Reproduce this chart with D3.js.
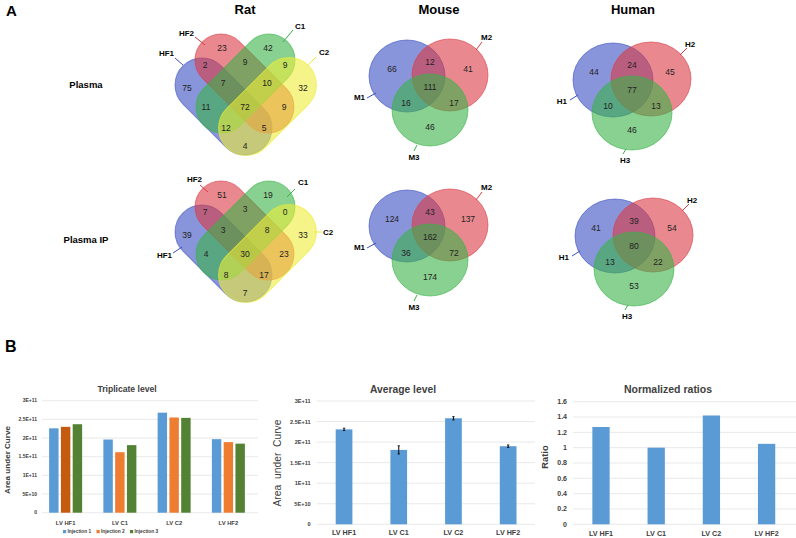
<!DOCTYPE html>
<html><head><meta charset="utf-8">
<script src="https://cdn.jsdelivr.net/npm/d3@7"></script>
<style>
body{margin:0;background:#fff}
svg{display:block;font-family:"Liberation Sans",Arial,sans-serif}
</style>
</head><body>
<svg id="c" width="796" height="538"></svg>
<script>
// ---------------- DATA ----------------
const species = ["Rat", "Mouse", "Human"];
const sampleRows = ["Plasma", "Plasma IP"];

const ratSets = ["HF1", "HF2", "C1", "C2"];
const ratRegions = ["HF1", "HF2", "C1", "C2", "HF1&HF2", "HF2&C1", "C1&C2", "HF1&C1", "HF2&C2", "HF1&C2",
  "HF1&HF2&C1", "HF2&C1&C2", "HF1&C1&C2", "HF1&HF2&C2", "HF1&HF2&C1&C2"];
const ratPlasma   = [75, 23, 42, 32, 2, 9, 9, 11, 9, 4, 7, 10, 12, 5, 72];
const ratPlasmaIP = [39, 51, 19, 33, 7, 3, 0, 4, 23, 7, 3, 8, 8, 17, 30];

const mouseSets = ["M1", "M2", "M3"];
const humanSets = ["H1", "H2", "H3"];
const tripleRegions = ["1", "2", "3", "1&2", "1&3", "2&3", "1&2&3"];
const mousePlasma   = [66, 41, 46, 12, 16, 17, 111];
const mousePlasmaIP = [124, 137, 174, 43, 36, 72, 162];
const humanPlasma   = [44, 45, 46, 24, 10, 13, 77];
const humanPlasmaIP = [41, 54, 53, 39, 13, 22, 80];

const barCategories = ["LV HF1", "LV C1", "LV C2", "LV HF2"];
const injections = ["Injection 1", "Injection 2", "Injection 3"];
const injection1 = [2.26e11, 1.96e11, 2.68e11, 1.97e11];
const injection2 = [2.30e11, 1.62e11, 2.55e11, 1.89e11];
const injection3 = [2.37e11, 1.81e11, 2.54e11, 1.85e11];
const averageLevel = [2.31e11, 1.81e11, 2.58e11, 1.90e11];
const averageError = [0.03e11, 0.10e11, 0.04e11, 0.03e11];
const normalizedRatio = [1.27, 1.00, 1.42, 1.05];

const aucTicks = [0, 5e10, 1e11, 1.5e11, 2e11, 2.5e11, 3e11];
const aucTickLabels = ["0", "5E+10", "1E+11", "1.5E+11", "2E+11", "2.5E+11", "3E+11"];
const ratioTicks = [0, 0.2, 0.4, 0.6, 0.8, 1.0, 1.2, 1.4, 1.6];
const ratioTickLabels = ["0", "0.2", "0.4", "0.6", "0.8", "1", "1.2", "1.4", "1.6"];

// ---------------- STYLE / LAYOUT ----------------
const svg = d3.select("#c");
const C = {blue: "#3b4fc2", red: "#db3a44", green: "#38b248", yellow: "#ecec38"};
const setColors4 = [C.blue, C.red, C.green, C.yellow];
const setColors3 = [C.blue, C.red, C.green];
const fillOp = 0.6;
const textDark = "#222";
const chartText = "#404040";

// panel letters, titles
svg.append("text").attr("x", 6).attr("y", 16).attr("font-size", 15).attr("font-weight", "bold").text("A");
svg.append("text").attr("x", 5).attr("y", 352).attr("font-size", 16).attr("font-weight", "bold").text("B");
const colX = d3.scalePoint().domain(species).range([245, 633]);
svg.selectAll("text.col").data(species).join("text").attr("class", "col")
  .attr("x", d => colX(d)).attr("y", 14).attr("text-anchor", "middle")
  .attr("font-size", 13).attr("font-weight", "bold").text(d => d);
const rowY = d3.scalePoint().domain(sampleRows).range([88, 243]);
svg.selectAll("text.row").data(sampleRows).join("text").attr("class", "row")
  .attr("x", 86).attr("y", d => rowY(d)).attr("text-anchor", "middle")
  .attr("font-size", 9.5).attr("font-weight", "bold").text(d => d);

// ---------- 4-set capsule Venn ----------
const caps4 = [
  {cx: -21.5, cy: 6.5, L: 30.4, r: 27, rot: 45},    // HF1
  {cx: -0.5, cy: -16.5, L: 33.2, r: 26, rot: 45},   // HF2
  {cx: 0.5, cy: -16.5, L: 33.2, r: 26, rot: -45},   // C1
  {cx: 22.5, cy: 6.5, L: 30.4, r: 27.5, rot: -45}   // C2
];
const regionPos4 = [[-58, -12], [-23, -52], [23, -52], [58, -12], [-40, -35], [0, -38], [40, -35],
  [-39, 7], [39, 7], [0, 46], [-22, -17], [22, -17], [-19, 28], [19, 28], [0, 7]];

function capsulePath(L, r) {
  return `M${-L},${-r}L${L},${-r}A${r},${r} 0 0 1 ${L},${r}L${-L},${r}A${r},${r} 0 0 1 ${-L},${-r}Z`;
}
function drawVenn4(cx, cy, counts, labels) {
  const g = svg.append("g").attr("transform", `translate(${cx},${cy})`);
  caps4.forEach((c, i) => {
    g.append("path").attr("d", capsulePath(c.L, c.r))
      .attr("transform", `translate(${c.cx},${c.cy}) rotate(${c.rot})`)
      .attr("fill", setColors4[i]).attr("fill-opacity", fillOp)
      .attr("stroke", setColors4[i]).attr("stroke-opacity", 0.6).attr("stroke-width", 1);
  });
  ratRegions.forEach((r, i) => {
    g.append("text").attr("x", regionPos4[i][0]).attr("y", regionPos4[i][1]).attr("dy", "0.35em")
      .attr("text-anchor", "middle").attr("font-size", 8.5).attr("fill", textDark).text(counts[i]);
  });
  ratSets.forEach((s, i) => {
    const l = labels[i];
    g.append("line").attr("x1", l.l[0]).attr("y1", l.l[1]).attr("x2", l.l[2]).attr("y2", l.l[3])
      .attr("stroke", setColors4[i]).attr("stroke-width", 1);
    g.append("text").attr("x", l.t[0]).attr("y", l.t[1]).attr("dy", "0.35em").attr("text-anchor", l.a)
      .attr("font-size", 8).attr("font-weight", "bold").text(s);
  });
}
drawVenn4(245, 100, ratPlasma, [
  {t: [-71, -47], a: "end", l: [-70, -42, -62, -35]},
  {t: [-51, -67], a: "end", l: [-50, -63, -40, -55]},
  {t: [50, -74], a: "start", l: [48, -70, 38, -58]},
  {t: [74, -48], a: "start", l: [71, -43, 63, -35]}
]);
drawVenn4(245, 247, ratPlasmaIP, [
  {t: [-73, 8], a: "end", l: [-72, 6, -63, 0]},
  {t: [-43, -68], a: "end", l: [-45, -62, -37, -55]},
  {t: [53, -65], a: "start", l: [50, -58, 42, -50]},
  {t: [78, -15], a: "start", l: [69, -15, 77, -15]}
]);

// ---------- 3-set Venn ----------
const regionPos3 = [[-38, -17], [38, -17], [0, 41], [0, -24], [-24, 17], [24, 17], [0, 1]];
function drawVenn3(cx, cy, circles, rx, ry, sets, counts, labels) {
  const g = svg.append("g").attr("transform", `translate(${cx},${cy})`);
  circles.forEach((c, i) => {
    g.append("ellipse").attr("cx", c[0]).attr("cy", c[1]).attr("rx", rx).attr("ry", ry)
      .attr("fill", setColors3[i]).attr("fill-opacity", fillOp)
      .attr("stroke", setColors3[i]).attr("stroke-opacity", 0.6).attr("stroke-width", 1);
  });
  tripleRegions.forEach((r, i) => {
    g.append("text").attr("x", regionPos3[i][0]).attr("y", regionPos3[i][1]).attr("dy", "0.35em")
      .attr("text-anchor", "middle").attr("font-size", 8.5).attr("fill", textDark).text(counts[i]);
  });
  sets.forEach((s, i) => {
    const l = labels[i];
    g.append("line").attr("x1", l.l[0]).attr("y1", l.l[1]).attr("x2", l.l[2]).attr("y2", l.l[3])
      .attr("stroke", setColors3[i]).attr("stroke-width", 1);
    g.append("text").attr("x", l.t[0]).attr("y", l.t[1]).attr("dy", "0.35em").attr("text-anchor", l.a)
      .attr("font-size", 8).attr("font-weight", "bold").text(s);
  });
}
const mouseCircles = [[-23, -10], [20, -11], [0, 24]];
const humanCircles = [[-19, -9], [19, -10], [0, 24]];
const mouseLabels = [
  {t: [-65, 11], a: "end", l: [-63, 12, -54, 7]},
  {t: [51, -49], a: "start", l: [52, -44, 46, -36]},
  {t: [-16, 71], a: "middle", l: [-16, 65, -13, 59]}
];
const humanLabels = [
  {t: [-65, 12], a: "end", l: [-62, 11, -54, 6]},
  {t: [53, -45], a: "start", l: [55, -41, 48, -34]},
  {t: [-7, 71], a: "middle", l: [-9, 65, -6, 60]}
];
drawVenn3(430, 86, mouseCircles, 38, 36, mouseSets, mousePlasma, mouseLabels);
drawVenn3(430, 236, mouseCircles, 38, 36, mouseSets, mousePlasmaIP, mouseLabels);
drawVenn3(632, 89, humanCircles, 40, 37, humanSets, humanPlasma, humanLabels);
drawVenn3(634, 245, humanCircles, 40, 37, humanSets, humanPlasmaIP, humanLabels);

// ---------------- BAR CHARTS ----------------
const barBlue = "#5b9bd5", barOrange = "#ed7d31", barDarkOrange = "#c55a11", barGreen = "#548235";
const gridColor = "#e3e3e3";

function frame(o) {
  const g = svg.append("g");
  o.ticks.forEach((t, i) => {
    g.append("line").attr("x1", o.gx0).attr("x2", o.gx1).attr("y1", o.y(t)).attr("y2", o.y(t))
      .attr("stroke", gridColor).attr("stroke-width", 0.8);
    g.append("text").attr("x", o.lx).attr("y", o.y(t)).attr("dy", "0.35em").attr("text-anchor", "end")
      .attr("font-size", o.tickSize).attr("font-weight", "bold").attr("fill", chartText).text(o.tickLabels[i]);
  });
  barCategories.forEach(c => {
    g.append("text").attr("x", o.x(c) + o.x.bandwidth() / 2).attr("y", o.xly).attr("dy", "0.35em")
      .attr("text-anchor", "middle").attr("font-size", o.xSize).attr("font-weight", "bold")
      .attr("fill", chartText).text(c);
  });
  g.append("text").attr("x", o.tx).attr("y", o.ty).attr("dy", "0.35em").attr("text-anchor", "middle")
    .attr("font-size", o.titleSize).attr("font-weight", "bold").attr("fill", chartText).text(o.title);
  g.append("text").attr("transform", `translate(${o.ax},${o.ay}) rotate(-90)`).attr("dy", "0.35em")
    .attr("text-anchor", "middle").attr("font-size", o.axSize).attr("font-weight", o.axWeight)
    .attr("fill", chartText).style("white-space", "pre").text(o.axTitle);
  return g;
}

// Chart 1: Triplicate level
{
  const x = d3.scaleBand().domain(barCategories).range([38.5, 255.5]);
  const xi = d3.scaleBand().domain(injections).range([0, 33]).paddingInner(0.2);
  const y = d3.scaleLinear().domain([0, 3e11]).range([512.7, 400.7]);
  const g = frame({x, y, ticks: aucTicks, tickLabels: aucTickLabels, gx0: 42, gx1: 258, lx: 37, tickSize: 5,
    xly: 523, xSize: 5.8, title: "Triplicate level", tx: 127, ty: 389, titleSize: 8.6,
    axTitle: "Area under Curve", ax: 7, ay: 460, axSize: 8.1, axWeight: "bold"});
  const series = [injection1, injection2, injection3];
  const colors = [barBlue, barOrange, barGreen];
  series.forEach((vals, s) => {
    g.selectAll(null).data(vals).join("rect")
      .attr("x", (d, i) => x(barCategories[i]) + x.bandwidth() / 2 - 16.5 + xi(injections[s]))
      .attr("width", xi.bandwidth())
      .attr("y", d => y(d)).attr("height", d => y(0) - y(d))
      .attr("fill", (d, i) => (s === 1 && i === 0) ? barDarkOrange : colors[s]);
  });
  const legX = d3.scalePoint().domain(injections).range([63, 130]);
  injections.forEach((n, s) => {
    g.append("rect").attr("x", legX(n)).attr("y", 530).attr("width", 3.2).attr("height", 3.2).attr("fill", colors[s]);
    g.append("text").attr("x", legX(n) + 4.5).attr("y", 531.7).attr("dy", "0.35em").attr("font-size", 4.8)
      .attr("font-weight", "bold").attr("fill", chartText).text(n);
  });
}

// Chart 2: Average level
{
  const x = d3.scaleBand().domain(barCategories).range([316.7, 535.5]);
  const y = d3.scaleLinear().domain([0, 3e11]).range([524.3, 401]);
  const g = frame({x, y, ticks: aucTicks, tickLabels: aucTickLabels, gx0: 316.7, gx1: 535, lx: 310.7, tickSize: 5.6,
    xly: 532.7, xSize: 7.2, title: "Average level", tx: 403, ty: 389, titleSize: 10.3,
    axTitle: "Area  under  Curve", ax: 277, ay: 463, axSize: 10.3, axWeight: "normal"});
  const bw = 16.7;
  g.selectAll(null).data(averageLevel).join("rect")
    .attr("x", (d, i) => x(barCategories[i]) + x.bandwidth() / 2 - bw / 2).attr("width", bw)
    .attr("y", d => y(d)).attr("height", d => y(0) - y(d)).attr("fill", barBlue);
  averageLevel.forEach((d, i) => {
    const cx = x(barCategories[i]) + x.bandwidth() / 2;
    const e = averageError[i];
    g.append("line").attr("x1", cx).attr("x2", cx).attr("y1", y(d - e)).attr("y2", y(d + e)).attr("stroke", "#000").attr("stroke-width", 1);
    [d - e, d + e].forEach(v => g.append("line").attr("x1", cx - 1.2).attr("x2", cx + 1.2).attr("y1", y(v)).attr("y2", y(v)).attr("stroke", "#000").attr("stroke-width", 0.8));
  });
}

// Chart 3: Normalized ratios
{
  const x = d3.scaleBand().domain(barCategories).range([573.4, 794.2]);
  const y = d3.scaleLinear().domain([0, 1.6]).range([524.3, 401.7]);
  const g = frame({x, y, ticks: ratioTicks, tickLabels: ratioTickLabels, gx0: 573, gx1: 796, lx: 567, tickSize: 7,
    xly: 533, xSize: 7.2, title: "Normalized ratios", tx: 668, ty: 389, titleSize: 10.5,
    axTitle: "Ratio", ax: 545, ay: 457, axSize: 9.3, axWeight: "bold"});
  const bw = 17.3;
  g.selectAll(null).data(normalizedRatio).join("rect")
    .attr("x", (d, i) => x(barCategories[i]) + x.bandwidth() / 2 - bw / 2).attr("width", bw)
    .attr("y", d => y(d)).attr("height", d => y(0) - y(d)).attr("fill", barBlue);
}
</script>
</body></html>
